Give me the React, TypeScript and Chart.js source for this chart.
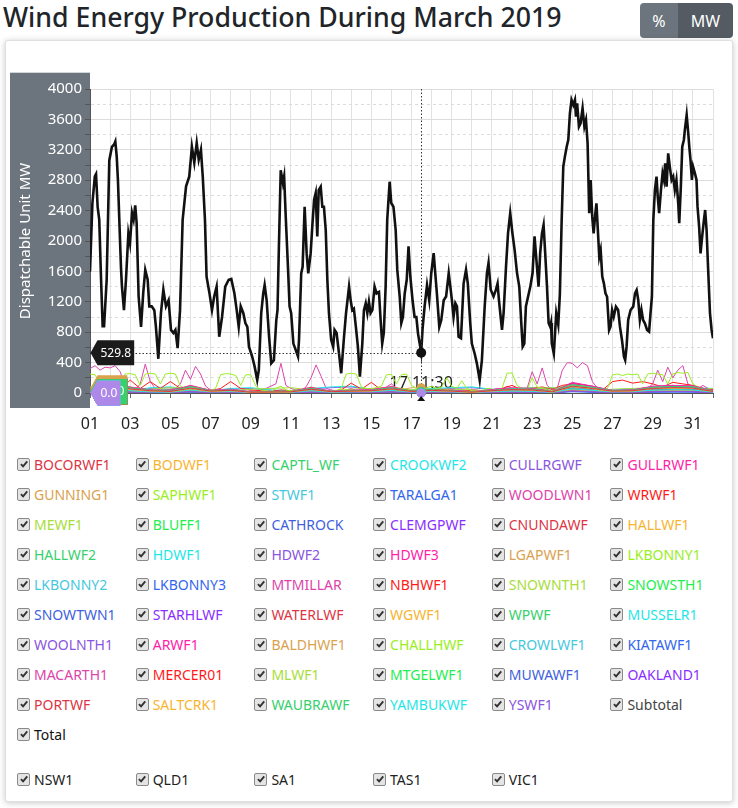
import React, { useEffect, useRef } from "react";
import { Chart, registerables } from "chart.js";

Chart.register(...registerables);

const FONT = '"Noto Sans", "Open Sans", sans-serif';
const TITLE = "Wind Energy Production During March 2019";
const Y_TITLE = "Dispatchable Unit MW";
const BUTTONS = ["%", "MW"];
const DAYS = 31;
const Y_MAX = 4000;
const CROSSHAIR_T = 16 + 11.5 / 24; // 17 March, 11:30

const UNIT_NAMES = [
  "BOCORWF1", "BODWF1", "CAPTL_WF", "CROOKWF2", "CULLRGWF", "GULLRWF1",
  "GUNNING1", "SAPHWF1", "STWF1", "TARALGA1", "WOODLWN1", "WRWF1",
  "MEWF1", "BLUFF1", "CATHROCK", "CLEMGPWF", "CNUNDAWF", "HALLWF1",
  "HALLWF2", "HDWF1", "HDWF2", "HDWF3", "LGAPWF1", "LKBONNY1",
  "LKBONNY2", "LKBONNY3", "MTMILLAR", "NBHWF1", "SNOWNTH1", "SNOWSTH1",
  "SNOWTWN1", "STARHLWF", "WATERLWF", "WGWF1", "WPWF", "MUSSELR1",
  "WOOLNTH1", "ARWF1", "BALDHWF1", "CHALLHWF", "CROWLWF1", "KIATAWF1",
  "MACARTH1", "MERCER01", "MLWF1", "MTGELWF1", "MUWAWF1", "OAKLAND1",
  "PORTWF", "SALTCRK1", "WAUBRAWF", "YAMBUKWF", "YSWF1",
];
const EXTRA_NAMES = ["Subtotal", "Total"];
const REGIONS = ["NSW1", "QLD1", "SA1", "TAS1", "VIC1"];

const PALETTE = [
  "#dc3545", "#f7b431", "#36d06c", "#1fe6e6", "#8a55e0", "#ff22a8",
  "#d9a24f", "#99ee22", "#46c8dc", "#3366ee", "#dd44aa", "#ff1a1a",
  "#a8dd3a", "#22ee4e", "#3f5fdd", "#8a2eff",
];

// Total MW: [day offset from 1 March 00:00, MW]
const TOTAL: [number, number][] = [
  [0,1600],[0.12,2500],[0.24,2850],[0.3,2880],[0.38,2450],[0.46,2280],[0.55,1500],[0.63,880],[0.7,880],[0.83,1490],
  [0.96,3060],[1.09,3240],[1.2,3270],[1.26,3310],[1.33,3110],[1.39,2800],[1.54,1660],[1.59,1400],[1.69,1090],[1.79,1490],
  [1.91,2100],[1.99,1970],[2.09,2370],[2.17,2280],[2.25,2470],[2.32,2240],[2.42,1270],[2.54,870],[2.65,1320],[2.75,1620],
  [2.87,1490],[2.95,1140],[3.07,1140],[3.2,1090],[3.28,870],[3.4,450],[3.53,1050],[3.65,1360],[3.78,1140],[3.91,1220],
  [4.03,830],[4.15,790],[4.25,830],[4.36,590],[4.48,1090],[4.61,2280],[4.78,2720],[4.94,2850],[5.07,3240],[5.19,3030],
  [5.31,3290],[5.41,3070],[5.52,3200],[5.61,2850],[5.72,2280],[5.8,1530],[5.94,1320],[6.07,1090],[6.18,1270],[6.3,1400],
  [6.43,740],[6.57,1000],[6.73,1400],[6.9,1490],[7.03,1500],[7.18,1320],[7.3,1090],[7.4,870],[7.5,1140],[7.63,1050],
  [7.73,920],[7.83,870],[7.91,610],[8.07,480],[8.19,350],[8.32,170],[8.4,300],[8.52,1050],[8.62,1310],[8.69,1420],
  [8.79,1220],[8.91,740],[9.02,390],[9.15,430],[9.27,960],[9.33,1090],[9.4,1930],[9.49,2930],[9.6,2760],[9.66,2850],
  [9.74,2320],[9.85,1660],[9.93,1140],[10.01,1050],[10.12,650],[10.23,570],[10.35,480],[10.4,700],[10.51,1575],[10.58,1660],
  [10.68,2450],[10.78,1840],[10.86,1575],[10.98,1840],[11.06,2190],[11.15,2540],[11.23,2630],[11.31,2060],[11.38,2670],[11.48,2715],
  [11.56,2450],[11.64,2450],[11.73,2145],[11.81,1490],[11.89,1050],[12,700],[12.1,610],[12.17,830],[12.27,790],[12.39,520],
  [12.5,260],[12.64,740],[12.74,1050],[12.89,1400],[12.97,1220],[13.05,1090],[13.13,1110],[13.23,870],[13.33,610],[13.43,215],
  [13.55,650],[13.63,1090],[13.72,1180],[13.8,1050],[13.88,1200],[13.96,1050],[14.05,1090],[14.16,1400],[14.26,1310],[14.38,1330],
  [14.46,960],[14.54,650],[14.62,790],[14.71,1400],[14.79,2280],[14.91,2780],[14.99,2500],[15.1,2450],[15.21,2145],[15.29,1620],
  [15.41,1270],[15.49,920],[15.57,1000],[15.66,1310],[15.76,1490],[15.85,1930],[15.94,1530],[16.05,1220],[16.15,1000],[16.24,1000],
  [16.32,785],[16.43,610],[16.479,529.8],[16.55,850],[16.65,1140],[16.77,1420],[16.88,1220],[16.98,1575],[17.1,1840],[17.18,1575],
  [17.26,1310],[17.38,870],[17.48,960],[17.6,1220],[17.72,1270],[17.85,1575],[17.93,1400],[18.01,1220],[18.09,1000],[18.18,1180],
  [18.26,1140],[18.34,740],[18.46,720],[18.59,1440],[18.71,1620],[18.8,1440],[18.92,920],[19,650],[19.14,520],[19.25,390],
  [19.39,170],[19.5,430],[19.64,1140],[19.75,1575],[19.83,1710],[19.94,1360],[20.08,1270],[20.2,1360],[20.28,1440],[20.35,1220],
  [20.5,830],[20.58,1050],[20.7,1660],[20.8,2100],[20.91,2365],[21.02,2100],[21.13,1880],[21.25,1575],[21.36,1400],[21.46,920],
  [21.53,610],[21.61,650],[21.69,1140],[21.8,1270],[21.91,1400],[22.02,1575],[22.12,2060],[22.24,1660],[22.32,1400],[22.4,1840],
  [22.49,2100],[22.57,2210],[22.65,1840],[22.74,1400],[22.82,920],[22.9,870],[22.94,920],[22.98,650],[23.08,520],[23.2,1050],
  [23.3,900],[23.38,1300],[23.47,2277],[23.55,2980],[23.63,3110],[23.72,3240],[23.8,3330],[23.88,3680],[23.96,3856],[24.05,3790],
  [24.13,3856],[24.18,3636],[24.24,3812],[24.33,3505],[24.41,3549],[24.51,3747],[24.6,3505],[24.68,3593],[24.76,3286],[24.84,2365],
  [24.91,2803],[24.99,2320],[25.06,2101],[25.13,2320],[25.2,2496],[25.27,2145],[25.34,1794],[25.41,1882],[25.49,1531],[25.57,1443],
  [25.65,1312],[25.73,1267],[25.83,829],[25.9,873],[25.98,1092],[26.06,1004],[26.17,1136],[26.28,1092],[26.37,873],[26.47,698],
  [26.57,478],[26.63,434],[26.7,610],[26.78,961],[26.9,1092],[27.03,1136],[27.12,1312],[27.2,1355],[27.28,1224],[27.36,961],
  [27.44,1092],[27.52,961],[27.61,917],[27.72,829],[27.82,807],[27.89,1049],[27.96,1267],[28.03,2277],[28.11,2671],[28.19,2847],
  [28.25,2584],[28.32,2365],[28.41,2671],[28.49,2891],[28.56,2803],[28.62,3022],[28.69,2715],[28.77,3154],[28.85,2978],[28.94,2803],
  [29.02,2847],[29.1,2671],[29.18,2803],[29.27,2496],[29.32,2233],[29.4,2715],[29.47,3241],[29.55,3329],[29.6,3461],[29.69,3658],
  [29.77,3417],[29.82,3241],[29.88,3066],[29.95,2803],[30.01,2978],[30.1,2891],[30.18,2803],[30.23,2452],[30.31,2189],[30.38,1838],
  [30.46,2057],[30.55,2277],[30.61,2408],[30.68,2145],[30.76,1619],[30.85,1049],[30.93,829],[31,720],
];

// Quarter-day values (MW)
const MACARTH1 = [
  320,360,300,340, 330,360,280,90, 60,40,120,380, 150,60,40,30, 40,60,120,300, 180,350,250,90,
  40,30,20,40, 60,30,20,20, 30,20,40,60, 90,120,390,100, 60,40,30,80, 200,370,220,60,
  40,30,20,40, 60,30,20,30, 40,60,30,80, 120,60,40,30, 30,20,15,20, 40,30,20,30,
  40,30,20,30, 50,40,20,30, 40,60,40,90, 60,40,30,60, 280,120,330,100, 40,60,300,400,
  390,330,400,360, 150,60,40,30, 20,30,20,30, 40,30,40,60, 120,300,150,340, 200,300,360,120,
  80,60,100,60, 40,
];
const SAPHWF1 = [
  250,240,120,80, 60,40,90,250, 255,240,100,250, 260,250,120,250, 260,250,90,60, 50,80,60,40,
  30,60,240,255, 250,230,100,240, 240,90,40,30, 20,60,90,40, 30,40,30,60, 80,60,40,30,
  20,30,60,250, 260,250,80,60, 50,70,90,240, 245,120,240,250, 100,60,40,70, 90,60,80,200,
  90,60,160,60, 30,20,30,60, 50,40,60,260, 265,100,60,40, 200,80,60,40, 30,40,80,100,
  90,80,100,70, 60,40,30,60, 240,250,230,250, 240,250,120,250, 260,250,240,120, 250,270,260,270,
  120,80,60,40, 30,
];
// Half-day values (MW)
const NBHWF1 = [
  60,40, 50,40, 170,60, 150,60, 150,60, 50,40, 30,60, 150,60, 40,30, 20,40, 30,20,
  40,30, 20,40, 130,50, 140,40, 60,40, 30,20, 40,30, 20,40, 30,20, 30,60, 100,40,
  60,80, 50,100, 120,110, 80,40, 150,170, 130,150, 120,80, 140,120, 100,60, 40,
];
// Daily values (MW), 1 March .. 1 April
const BOCORWF1 = [40,70,55,30,20,65,25,35, 10,12,15,50,18,25,30,55, 20,35,25,10,30,45,40,15, 90,60,25,30,60,70,65,20];
const BODWF1 = [35,60,45,25,15,55,20,30, 8,10,12,45,15,20,25,50, 18,30,20,8,25,40,35,12, 80,55,20,25,55,60,60,18];
const CAPTL_WF = [50,90,70,35,25,85,30,40, 12,15,18,60,20,30,35,70, 25,45,30,12,35,55,50,18, 110,75,30,35,75,85,80,25];
const CROOKWF2 = [20,45,30,15,10,40,15,20, 5,6,8,30,10,15,18,35, 12,20,15,5,18,25,22,8, 55,35,15,18,38,42,40,12];
const CULLRGWF = [10,20,15,8,5,18,8,10, 3,3,4,14,5,8,9,16, 6,10,8,3,9,12,10,4, 25,17,8,9,18,20,19,6];
const GULLRWF1 = [60,110,80,40,30,100,35,50, 15,18,20,75,25,35,45,85, 10,15,40,15,45,70,60,20, 130,90,35,40,90,100,95,30];
const GUNNING1 = [18,35,25,12,8,32,12,15, 4,5,6,22,8,12,14,28, 10,16,12,4,14,20,18,6, 42,28,12,14,30,33,32,10];
const STWF1 = [60,85,70,40,30,80,35,50, 15,20,25,65,25,35,40,75, 20,30,35,15,40,60,55,20, 110,80,35,40,85,90,88,30];
const TARALGA1 = [30,60,45,20,15,55,20,25, 8,9,10,40,12,20,22,45, 15,25,20,7,22,35,30,10, 75,50,20,22,50,55,52,15];
const WOODLWN1 = [12,25,18,9,6,22,8,10, 3,4,4,16,5,8,9,18, 6,10,8,3,9,13,12,4, 30,20,8,9,20,22,21,6];
const WRWF1 = [55,100,75,40,30,95,35,45, 15,15,20,70,20,35,40,80, 25,45,35,12,40,60,55,18, 120,85,30,38,85,95,90,28];
const MEWF1 = [80,60,40,50,70,60,40,30, 50,60,70,40,30,50,60,80, 40,50,50,40,30,50,60,70, 40,30,50,60,70,50,40,60];
const BLUFF1 = [20,40,30,15,10,35,15,20, 5,6,8,30,10,15,18,35, 8,15,15,5,15,25,20,8, 45,30,15,15,35,40,38,10];
const CATHROCK = [25,50,35,20,12,45,18,25, 6,8,10,35,12,18,20,40, 10,18,18,6,20,30,25,10, 55,35,18,20,40,45,42,12];
const CLEMGPWF = [15,30,22,12,8,28,10,14, 4,5,6,20,7,10,12,25, 6,10,10,4,12,18,15,5, 35,22,10,12,25,28,26,8];
const CNUNDAWF = [18,34,26,12,8,30,11,15, 4,5,7,24,8,11,13,27, 6,12,11,4,13,19,16,6, 38,24,11,13,27,30,28,9];
const HALLWF1 = [30,55,40,20,15,50,20,25, 8,9,10,40,12,20,22,45, 10,20,20,7,22,32,28,10, 65,40,20,22,45,50,48,15];
const HALLWF2 = [25,45,35,18,12,42,16,22, 6,8,9,32,10,16,18,38, 9,18,16,6,18,28,24,8, 55,35,16,18,38,42,40,12];
const HDWF1 = [35,65,50,25,18,60,22,30, 9,10,12,45,15,22,25,55, 12,22,22,8,25,38,32,12, 80,50,22,25,55,60,58,18];
const HDWF2 = [30,60,45,22,16,55,20,28, 8,9,11,42,14,20,23,50, 11,20,20,7,23,35,30,11, 75,45,20,23,50,55,52,16];
const HDWF3 = [35,70,50,25,18,65,22,32, 9,10,12,48,15,22,26,58, 12,22,22,8,26,40,34,12, 140,90,22,26,60,65,62,18];
const LGAPWF1 = [30,60,45,22,15,55,20,28, 8,9,10,42,14,20,22,50, 10,20,20,7,22,35,30,10, 70,45,20,22,50,55,52,15];
const LKBONNY1 = [20,35,28,14,10,32,12,18, 5,6,7,25,8,12,14,30, 7,12,12,5,14,20,18,6, 40,28,12,14,30,35,32,10];
const LKBONNY2 = [40,75,55,28,20,70,25,35, 10,12,14,52,17,25,28,62, 14,25,25,9,28,42,36,13, 90,58,25,28,62,70,66,20];
const LKBONNY3 = [12,22,17,9,6,20,8,10, 3,4,4,15,5,8,9,18, 4,8,8,3,9,13,11,4, 26,17,8,9,18,21,20,6];
const MTMILLAR = [20,40,30,15,10,38,14,18, 5,6,7,28,9,14,15,33, 7,14,14,5,15,24,20,7, 48,32,14,15,33,38,36,10];
const SNOWNTH1 = [42,78,58,30,21,72,26,36, 11,13,15,54,18,26,29,64, 15,26,26,10,29,44,38,14, 92,60,26,29,64,72,68,21];
const SNOWSTH1 = [35,70,50,25,18,65,22,32, 9,11,13,48,15,23,26,57, 13,23,23,8,26,38,33,12, 85,54,23,26,57,65,60,18];
const SNOWTWN1 = [30,65,45,22,15,60,20,28, 8,9,11,44,14,20,23,52, 11,20,20,7,23,35,30,11, 78,48,20,23,52,58,55,16];
const STARHLWF = [10,20,15,8,5,18,7,9, 3,3,4,14,5,7,8,16, 4,7,7,3,8,12,10,4, 24,15,7,8,16,18,17,5];
const WATERLWF = [36,66,52,26,18,62,23,31, 9,10,12,46,15,23,26,56, 12,23,22,8,26,39,33,12, 82,52,23,26,56,62,59,18];
const WGWF1 = [30,60,45,22,15,55,20,28, 8,9,10,42,14,20,22,50, 11,20,20,7,22,35,30,10, 72,46,20,22,50,55,52,15];
const WPWF = [25,50,38,18,12,46,17,24, 7,8,9,35,11,17,19,42, 9,17,17,6,19,30,25,9, 60,38,17,19,42,48,45,13];
const MUSSELR1 = [60,40,30,70,80,50,30,60, 70,40,30,60,80,90,50,30, 40,60,70,80,50,40,60,70, 50,30,40,60,50,40,70,60];
const WOOLNTH1 = [50,35,25,60,70,45,25,50, 60,35,25,55,70,80,45,25, 35,50,60,70,45,35,55,60, 45,25,35,55,45,35,60,50];
const ARWF1 = [60,80,40,25,40,60,30,25, 15,12,15,40,20,25,30,45, 15,30,25,15,30,50,60,30, 110,70,30,35,70,80,75,30];
const BALDHWF1 = [20,30,15,10,15,25,10,10, 6,5,6,15,8,10,12,18, 70,60,10,6,12,20,25,12, 45,28,12,14,28,32,30,12];
const CHALLHWF = [15,22,12,8,12,18,8,8, 5,4,5,12,6,8,10,14, 5,9,8,5,10,15,18,9, 32,20,10,11,20,24,22,9];
const CROWLWF1 = [25,35,20,12,18,28,12,12, 7,6,7,18,9,12,14,22, 7,14,12,7,14,24,28,14, 50,32,14,16,32,36,34,14];
const KIATAWF1 = [8,12,7,4,6,10,4,4, 2,2,2,6,3,4,5,8, 2,5,4,2,5,8,9,5, 16,10,5,5,10,12,11,5];
const MERCER01 = [40,60,30,20,30,45,20,20, 12,10,12,30,15,20,22,35, 12,22,20,12,22,38,45,22, 80,50,22,25,50,58,55,22];
const MLWF1 = [20,30,15,10,15,24,10,10, 6,5,6,15,8,10,12,18, 6,12,10,6,12,20,24,12, 42,26,12,13,26,30,28,12];
const MTGELWF1 = [50,70,35,22,35,55,25,22, 14,11,14,35,18,22,26,40, 14,26,22,14,26,44,52,26, 95,60,26,30,60,68,64,26];
const MUWAWF1 = [30,45,22,14,22,35,15,14, 9,7,9,22,11,14,16,26, 9,16,14,9,16,28,32,16, 60,38,16,18,38,44,40,16];
const OAKLAND1 = [25,38,18,12,18,30,13,12, 8,6,8,19,10,12,14,22, 8,14,12,8,14,24,28,14, 52,32,14,16,32,38,35,14];
const PORTWF = [18,28,14,9,14,22,9,9, 5,4,5,14,7,9,11,16, 5,11,9,5,11,18,22,11, 40,24,11,12,24,28,26,11];
const SALTCRK1 = [26,40,19,13,19,31,14,13, 8,6,8,20,10,13,15,23, 8,15,13,8,15,25,29,15, 54,33,15,17,33,39,36,15];
const WAUBRAWF = [70,100,50,30,50,80,35,30, 20,15,20,50,25,30,35,60, 20,35,30,20,35,60,70,35, 130,85,35,40,85,95,90,35];
const YAMBUKWF = [10,15,8,5,8,12,5,5, 3,2,3,8,4,5,6,9, 3,6,5,3,6,10,12,6, 20,13,6,7,13,15,14,6];
const YSWF1 = [12,18,9,6,9,14,6,6, 3,3,3,9,4,6,7,11, 0,0,6,3,7,12,14,7, 25,16,7,8,16,18,17,7];

const UNIT_VALUES: Record<string, number[]> = {
  BOCORWF1, BODWF1, CAPTL_WF, CROOKWF2, CULLRGWF, GULLRWF1, GUNNING1, SAPHWF1, STWF1, TARALGA1,
  WOODLWN1, WRWF1, MEWF1, BLUFF1, CATHROCK, CLEMGPWF, CNUNDAWF, HALLWF1, HALLWF2, HDWF1, HDWF2,
  HDWF3, LGAPWF1, LKBONNY1, LKBONNY2, LKBONNY3, MTMILLAR, NBHWF1, SNOWNTH1, SNOWSTH1, SNOWTWN1,
  STARHLWF, WATERLWF, WGWF1, WPWF, MUSSELR1, WOOLNTH1, ARWF1, BALDHWF1, CHALLHWF, CROWLWF1,
  KIATAWF1, MACARTH1, MERCER01, MLWF1, MTGELWF1, MUWAWF1, OAKLAND1, PORTWF, SALTCRK1, WAUBRAWF,
  YAMBUKWF, YSWF1,
};
const UNIT_STEP: Record<string, number> = { MACARTH1: 0.25, SAPHWF1: 0.25, NBHWF1: 0.5 };

const unitColor = (i: number) => PALETTE[i % PALETTE.length];

function tint(hex: string, k: number): string {
  const n = parseInt(hex.slice(1), 16);
  const mix = (c: number) => Math.round(c + (255 - c) * k);
  return `rgb(${mix((n >> 16) & 255)},${mix((n >> 8) & 255)},${mix(n & 255)})`;
}

type Pt = { x: number; y: number };
function nearestValue(data: Pt[], t: number): number {
  let best = data[0];
  for (const p of data) if (Math.abs(p.x - t) < Math.abs(best.x - t)) best = p;
  return best.y;
}

function crosshairText(t: number): string {
  const day = Math.floor(t) + 1;
  const mins = Math.round((t - Math.floor(t)) * 24 * 60);
  const hh = String(Math.floor(mins / 60)).padStart(2, "0");
  const mm = String(mins % 60).padStart(2, "0");
  return `${day} ${hh}:${mm}`;
}

function drawYLabel(ctx: CanvasRenderingContext2D, left: number, y: number, text: string, color: string) {
  ctx.font = `12px ${FONT}`;
  const tw = ctx.measureText(text).width;
  const a = 7.5, h = 25, w = tw + 6;
  ctx.fillStyle = color;
  ctx.beginPath();
  ctx.moveTo(left + 0.5, y);
  ctx.lineTo(left + a, y - h / 2);
  ctx.lineTo(left + a + w, y - h / 2);
  ctx.lineTo(left + a + w, y + h / 2);
  ctx.lineTo(left + a, y + h / 2);
  ctx.closePath();
  ctx.fill();
  ctx.fillStyle = "#fff";
  ctx.textAlign = "center";
  ctx.textBaseline = "middle";
  ctx.fillText(text, left + a + w / 2, y + 0.5);
}

const overlayPlugin = {
  id: "overlay",
  beforeDraw(chart: any) {
    const { ctx, chartArea } = chart;
    ctx.save();
    ctx.fillStyle = "#6c757d";
    ctx.fillRect(chartArea.left - 80, chartArea.top - 16.3, 80, chartArea.bottom - chartArea.top + 31.3);
    ctx.translate(chartArea.left - 64, (chartArea.top + chartArea.bottom) / 2);
    ctx.rotate(-Math.PI / 2);
    ctx.fillStyle = "#fff";
    ctx.font = `15px ${FONT}`;
    ctx.textAlign = "center";
    ctx.textBaseline = "middle";
    ctx.fillText(Y_TITLE, 0, 0);
    ctx.restore();
  },
  beforeDatasetsDraw(chart: any) {
    const { ctx, chartArea, scales } = chart;
    const cx = scales.x.getPixelForValue(CROSSHAIR_T);
    ctx.save();
    ctx.fillStyle = "#222";
    ctx.font = `16px ${FONT}`;
    ctx.textAlign = "center";
    ctx.textBaseline = "middle";
    ctx.fillText(crosshairText(CROSSHAIR_T), cx, chartArea.bottom - 10);
    ctx.restore();
  },
  afterDatasetsDraw(chart: any) {
    const { ctx, chartArea, scales } = chart;
    const xs = scales.x, ys = scales.y;
    const cx = xs.getPixelForValue(CROSSHAIR_T);
    const datasets = chart.data.datasets;
    const totalVal = nearestValue(datasets[0].data, CROSSHAIR_T);
    const ty = ys.getPixelForValue(totalVal);
    ctx.save();
    ctx.strokeStyle = "#333";
    ctx.lineWidth = 1;
    ctx.setLineDash([1.5, 2]);
    const vx = Math.round(cx) + 0.5;
    ctx.beginPath();
    ctx.moveTo(vx, chartArea.top);
    ctx.lineTo(vx, chartArea.bottom);
    ctx.stroke();
    const hy = Math.round(ty) + 0.5;
    ctx.beginPath();
    ctx.moveTo(chartArea.left, hy);
    ctx.lineTo(cx, hy);
    ctx.stroke();
    ctx.setLineDash([]);

    const units = datasets.slice(1);
    const vals = units.map((ds: any) => nearestValue(ds.data, CROSSHAIR_T));
    const fillFor = (ds: any, i: number) => (i === units.length - 1 ? tint(ds.borderColor, 0.3) : ds.borderColor);
    units.forEach((ds: any, i: number) => {
      ctx.fillStyle = fillFor(ds, i);
      ctx.beginPath();
      ctx.arc(cx, ys.getPixelForValue(vals[i]), 4.5, 0, Math.PI * 2);
      ctx.fill();
    });
    ctx.fillStyle = "#111";
    ctx.beginPath();
    ctx.moveTo(cx, chartArea.bottom + 3);
    ctx.lineTo(cx - 4, chartArea.bottom + 8);
    ctx.lineTo(cx + 4, chartArea.bottom + 8);
    ctx.closePath();
    ctx.fill();
    ctx.beginPath();
    ctx.arc(cx, ty, 5, 0, Math.PI * 2);
    ctx.fill();

    units.forEach((ds: any, i: number) => {
      drawYLabel(ctx, chartArea.left, ys.getPixelForValue(vals[i]), vals[i].toFixed(1), fillFor(ds, i));
    });
    drawYLabel(ctx, chartArea.left, ty, totalVal.toFixed(1), "#1b1b1b");
    ctx.restore();
  },
};

const CHECK_SVG =
  "url(\"data:image/svg+xml,%3Csvg xmlns='http://www.w3.org/2000/svg' viewBox='0 0 12 12'%3E%3Cpath d='M2.3 6.2 L4.9 8.8 L9.9 2.9' fill='none' stroke='%23333' stroke-width='2.3'/%3E%3C/svg%3E\")";

function LegendItem({ name, color }: { name: string; color: string }) {
  return (
    <label style={{ display: "flex", alignItems: "center", color, fontSize: 14, whiteSpace: "nowrap" }}>
      <input
        type="checkbox"
        defaultChecked
        style={{
          appearance: "none",
          WebkitAppearance: "none",
          margin: 0,
          width: 13,
          height: 13,
          boxSizing: "border-box",
          border: "1px solid #8a8a8a",
          borderRadius: 2,
          background: `#e4e4e4 ${CHECK_SVG} center / 10px 10px no-repeat`,
        } as any}
      />
      <span style={{ marginLeft: 4 }}>{name}</span>
    </label>
  );
}

export default function App() {
  const ref = useRef<HTMLCanvasElement>(null);

  useEffect(() => {
    const canvas = ref.current;
    if (!canvas) return;
    const datasets: any[] = [
      {
        label: "Total",
        data: TOTAL.map(([x, y]) => ({ x, y })),
        borderColor: "#111",
        borderWidth: 2.6,
        pointRadius: 0,
      },
    ];
    UNIT_NAMES.forEach((name, i) => {
      const step = UNIT_STEP[name] ?? 1;
      datasets.push({
        label: name,
        data: UNIT_VALUES[name].map((v, k) => ({ x: k * step, y: v })),
        borderColor: unitColor(i),
        borderWidth: 1,
        pointRadius: 0,
      });
    });

    const chart = new Chart(canvas, {
      type: "line",
      data: { datasets },
      options: {
        responsive: true,
        maintainAspectRatio: false,
        animation: false,
        events: [],
        layout: { padding: { left: 0, right: 17, top: 29, bottom: 0 } },
        plugins: { legend: { display: false }, tooltip: { enabled: false } },
        elements: { line: { tension: 0 }, point: { radius: 0 } },
        scales: {
          x: {
            type: "linear",
            min: 0,
            max: DAYS,
            afterFit: (s: any) => { s.height = 47; },
            ticks: {
              stepSize: 1,
              autoSkip: false,
              maxRotation: 0,
              color: "#222",
              padding: 17,
              font: { family: FONT, size: 16 },
              callback: (v: any) => {
                const n = Math.round(Number(v));
                return n % 2 === 0 ? String(n + 1).padStart(2, "0") : "";
              },
            },
            grid: { color: "#e2e2e2", tickColor: "#666", tickLength: 5 },
            border: { color: "#555" },
          },
          y: {
            min: 0,
            max: Y_MAX,
            afterFit: (s: any) => { s.width = 90; },
            ticks: {
              stepSize: 200,
              autoSkip: false,
              color: "#fff",
              padding: 3,
              font: { family: FONT, size: 15 },
              callback: (v: any) => (Number(v) % 400 === 0 ? String(v) : ""),
            },
            grid: { color: "#dcdcdc", tickColor: "#555", tickLength: 5 },
            border: {
              color: "#555",
              dash: (c: any) => (c.tick && c.tick.value % 400 !== 0 ? [3, 3] : []),
            },
          },
        },
      } as any,
      plugins: [overlayPlugin],
    });
    return () => chart.destroy();
  }, []);

  const legendNames = [...UNIT_NAMES, ...EXTRA_NAMES];
  const legendColor = (n: string, i: number) =>
    n === "Total" ? "#111" : n === "Subtotal" ? "#444" : unitColor(i);

  return (
    <div style={{ position: "absolute", left: 0, top: 0, width: 738, height: 808, fontFamily: FONT, background: "#fff", overflow: "hidden" }}>
      <div style={{ position: "absolute", left: 3, top: 3, fontSize: 26.7, lineHeight: "27px", fontWeight: 500, color: "#212529", whiteSpace: "nowrap" }}>
        {TITLE}
      </div>
      <div style={{ position: "absolute", left: 640, top: 3, height: 35, display: "flex", borderRadius: 4, overflow: "hidden" }}>
        {BUTTONS.map((b, i) => (
          <div key={b} style={{ width: i === 0 ? 38 : 55, height: 35, display: "flex", alignItems: "center", justifyContent: "center", color: "#fff", fontSize: 16, background: i === 0 ? "#6c757d" : "#545b62" }}>
            {b}
          </div>
        ))}
      </div>
      <div style={{ position: "absolute", left: 5, top: 40, width: 726, height: 760, background: "#fff", border: "1px solid rgba(0,0,0,0.12)", borderRadius: 3, boxShadow: "0 1px 6px rgba(0,0,0,0.22)" }} />
      <div style={{ position: "absolute", left: 0, top: 60, width: 730, height: 380 }}>
        <canvas ref={ref} />
      </div>
      <div style={{ position: "absolute", left: 17, top: 449, display: "grid", gridTemplateColumns: "repeat(6, 118.7px)", gridAutoRows: "30px" }}>
        {legendNames.map((n, i) => <LegendItem key={n} name={n} color={legendColor(n, i)} />)}
      </div>
      <div style={{ position: "absolute", left: 17, top: 764, display: "grid", gridTemplateColumns: "repeat(6, 118.7px)", gridAutoRows: "30px" }}>
        {REGIONS.map((n) => <LegendItem key={n} name={n} color="#222" />)}
      </div>
    </div>
  );
}
